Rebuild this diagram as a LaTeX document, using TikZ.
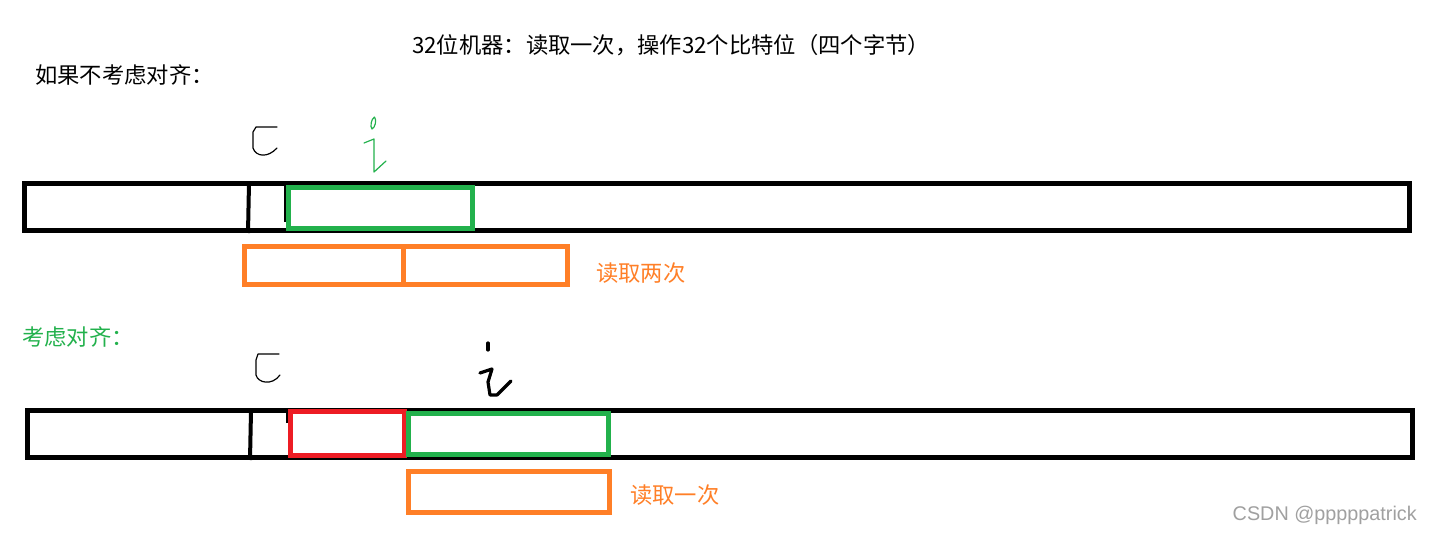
\documentclass[tikz,border=0pt]{standalone}
\usepackage{fontspec}
\newfontfamily\cjk{Noto Sans CJK SC}
\newfontfamily\wmfont{Liberation Sans}
\definecolor{pgreen}{HTML}{22B14C}
\definecolor{porange}{HTML}{FF7F27}
\definecolor{pred}{HTML}{ED1C24}
\definecolor{wmgray}{HTML}{A0A0A0}
\begin{document}
\begin{tikzpicture}[x=1pt,y=-1pt,
  txt/.style={inner sep=0pt,font=\cjk\fontsize{22.3}{26}\selectfont},
  bar/.style={draw=black,line width=5pt},
  tick/.style={draw=black,line width=4pt},
  gbox/.style={draw=pgreen,line width=5pt},
  obox/.style={draw=porange,line width=5pt},
  rbox/.style={draw=pred,line width=5pt},
  pen/.style={line width=1.2pt,line join=round,line cap=round},
  thickpen/.style={line width=3.2pt,line join=round,line cap=round}]
\useasboundingbox (0,0) rectangle (1432,534);
\fill[white] (0,0) rectangle (1432,534);

% texts
\node[txt,anchor=center] (title) at (671,45) {32位机器：读取一次，操作32个比特位（四个字节）};
\node[txt,anchor=west] (noalign) at (35,75) {如果不考虑对齐：};
\node[txt,anchor=west,text=porange] (readtwice) at (596,273) {读取两次};
\node[txt,anchor=west,text=pgreen] (align) at (22,337) {考虑对齐：};
\node[txt,anchor=west,text=porange] (readonce) at (630,495) {读取一次};
\node[inner sep=0pt,anchor=east,text=wmgray,font=\wmfont\fontsize{19.8}{22}\selectfont] (wm) at (1417,515) {CSDN @pppppatrick};

% top (unaligned)
\draw[bar] (24.5,183.5) rectangle (1409.5,230.5);
\draw[tick] (249,183) -- (248,233);
\draw[line width=3pt] (285,186) -- (285,222);
\draw[gbox] (288.5,187.5) rectangle (472.5,228.5);
\draw[obox] (244.5,246.5) rectangle (567.5,284.5);
\draw[obox] (403,246.5) -- (403,284.5);

% handwritten c and i (top)
\draw[pen] (277,127) -- (256,127) -- (253,132) -- (253,148) .. controls (256,157) and (268,158) .. (277,148);
\draw[pen,pgreen] (374.5,117) .. controls (371,119) and (370,127) .. (372,129) .. controls (375,128) and (377,120) .. (374.5,117);
\draw[pen,pgreen] (364,143) -- (374,139) -- (374,172) -- (386,161);

% bottom (aligned)
\draw[bar] (27.5,410.5) rectangle (1412.5,457.5);
\draw[tick] (251,411) -- (250,460);
\draw[line width=3pt] (287,412) -- (287,423);
\draw[rbox] (290.5,411.5) rectangle (404.5,455.5);
\draw[gbox] (408.5,413.5) rectangle (608.5,454.5);
\draw[obox] (408.5,471.5) rectangle (609.5,512.5);

% handwritten c and i (bottom)
\draw[pen] (279,354) -- (258,354) -- (256,360) -- (256,375) .. controls (258,383) and (272,386) .. (280,375);
\draw[thickpen] (488,343) -- (488,350);
\draw[thickpen] (480,373) -- (492,369) -- (488,382) -- (490,395) -- (497,395) -- (511,381);
\end{tikzpicture}
\end{document}
